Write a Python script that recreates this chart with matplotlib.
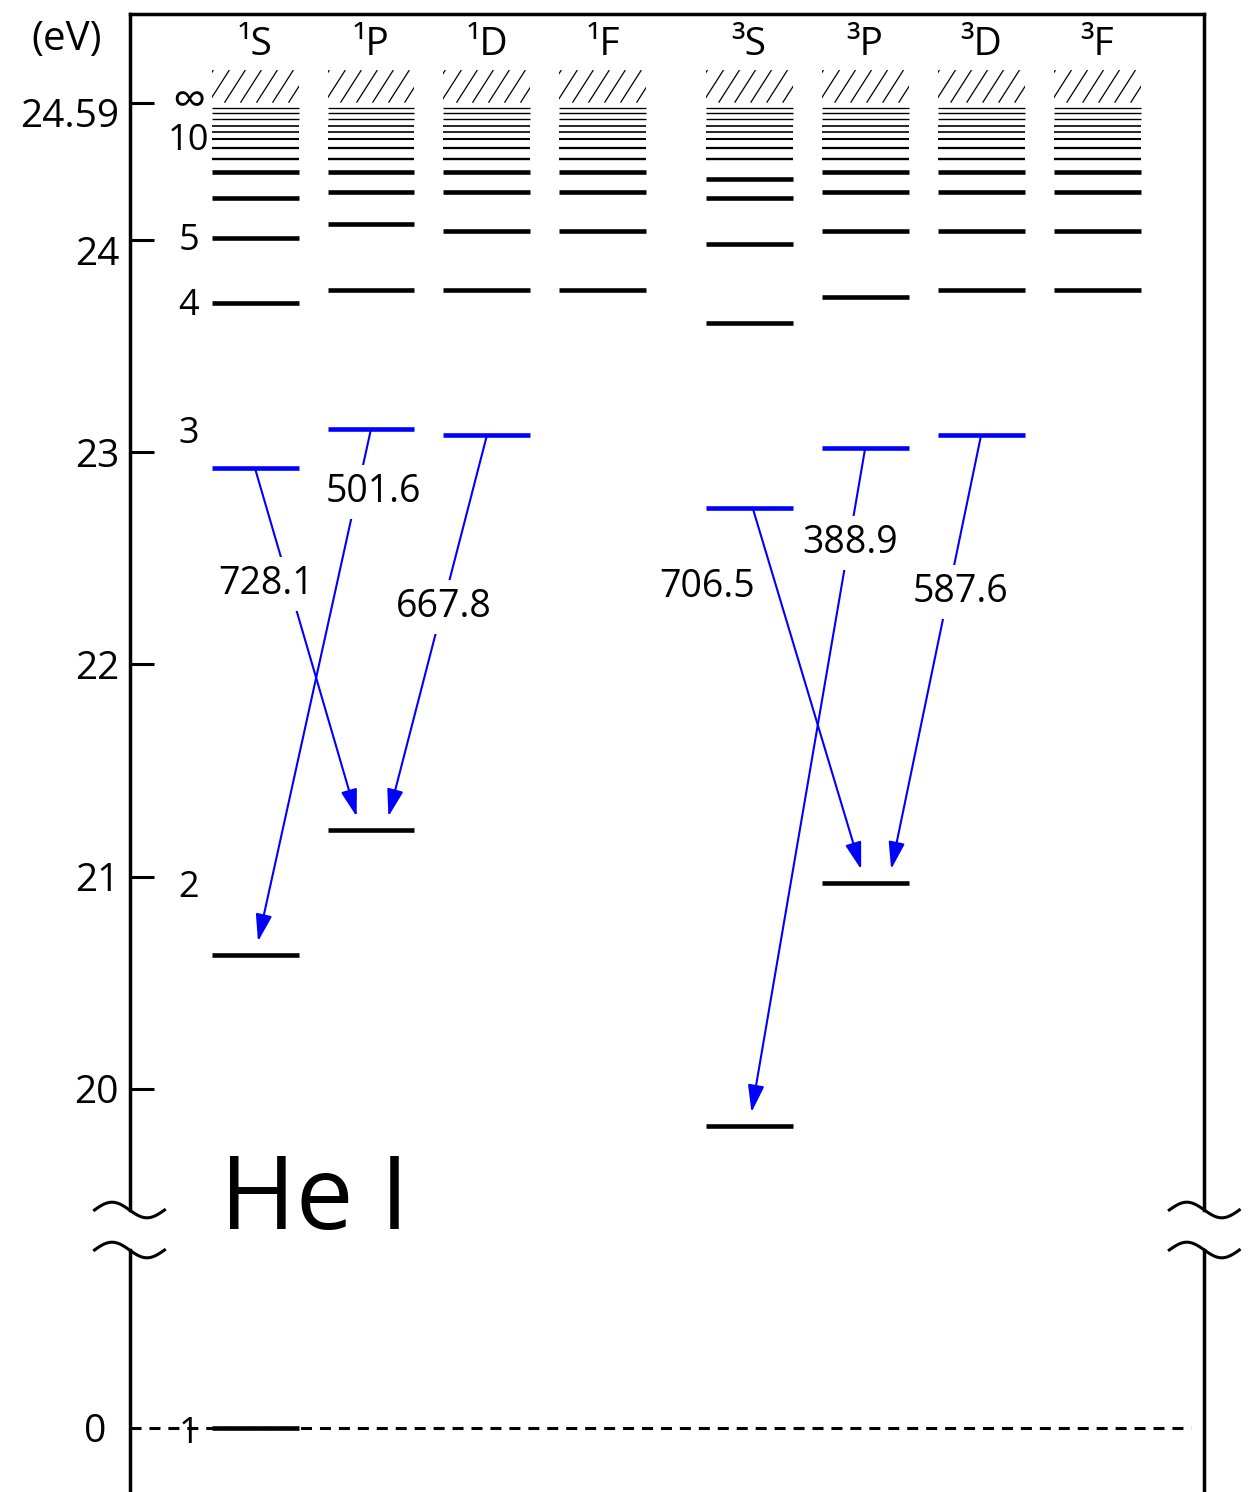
import numpy as np
import matplotlib
matplotlib.use("Agg")
import matplotlib.pyplot as plt
from matplotlib.patches import Rectangle
from matplotlib.lines import Line2D
from matplotlib.transforms import ScaledTranslation

plt.rcParams["font.family"] = ["Open Sans", "DejaVu Sans"]

# ---------------------------------------------------------------- data
terms = ["¹S", "¹P", "¹D", "¹F", "³S", "³P", "³D", "³F"]

# level energies in eV above the ground state, n = 1 ... 7 (None: no level)
E_1S = [0.0, 20.630, 22.925, 23.705, 24.010, 24.182, 24.294]
E_1P = [None, 21.220, 23.110, 23.766, 24.070, 24.209, 24.294]
E_1D = [None, None, 23.082, 23.766, 24.040, 24.209, 24.294]
E_1F = [None, None, None, 23.766, 24.040, 24.209, 24.294]
E_3S = [None, 19.824, 22.739, 23.610, 23.983, 24.182, 24.264]
E_3P = [None, 20.971, 23.019, 23.733, 24.040, 24.209, 24.294]
E_3D = [None, None, 23.082, 23.766, 24.040, 24.209, 24.294]
E_3F = [None, None, None, 23.766, 24.040, 24.209, 24.294]

# high Rydberg levels n = 8 ... 15, common to every term, and the series limit
E_rydberg = [24.350, 24.396, 24.435, 24.465, 24.490, 24.519, 24.547, 24.569]
E_limit = 24.59

# principal quantum number labels at the left edge
n_labels = ["10", "5", "4", "3", "2"]
n_label_E = [24.387, 23.955, 23.648, 23.044, 20.904]

# visible transitions n = 3 -> n = 2, wavelengths in nm
tr_upper = ["¹S", "¹P", "¹D", "³S", "³P", "³D"]
tr_lower = ["¹P", "¹S", "¹P", "³P", "³S", "³P"]
tr_wavelength = ["728.1", "501.6", "667.8", "706.5", "388.9", "587.6"]

y_ticks = [20, 21, 22, 23, 24, 24.59]
y_ticklabels = ["20", "21", "22", "23", "24", "24.59"]

# ---------------------------------------------------------------- layout
levels = dict(zip(terms, [E_1S, E_1P, E_1D, E_1F, E_3S, E_3P, E_3D, E_3F]))
col_x = {t: i + (0.26 if t.startswith("³") else 0.0) for i, t in enumerate(terms)}
half_w = 0.375
rydberg_lw = [1.7, 1.6, 1.5, 1.2, 1.2, 1.0, 1.0, 0.95]

# continuum shading above the series limit
cont_height = 0.14      # eV
hatch_step = 0.138      # horizontal spacing of the hatch strokes
hatch_lean = 0.18       # horizontal run of one stroke over the full height

# arrow end offsets from the column centres (tail, head)
tr_dx_tail = [0.0, 0.0, 0.0, 0.03, 0.0, 0.0]
tr_dx_head = [-0.09, 0.0, 0.12, 0.0, 0.0, 0.20]
# wavelength label anchors (x, baseline energy)
tr_label_pos = [(0.095, 22.332), (1.017, 22.767), (1.629, 22.224),
                (3.897, 22.318), (5.129, 22.526), (6.086, 22.295)]

BLUE = "#0000ff"
W, H = 1255, 1492
XL, XR = 129.5, 1204.3


def fwd(e):
    e = np.asarray(e, dtype=float)
    return np.where(e > 24, 24 + 1.1 * (e - 24), e)


def inv(u):
    u = np.asarray(u, dtype=float)
    return np.where(u > 24, 24 + (u - 24) / 1.1, u)


fig = plt.figure(figsize=(W / 100, H / 100), dpi=100)
ax = fig.add_axes([XL / W, 1 - 1210 / H, (XR - XL) / W, (1210 - 14) / H])
axb = fig.add_axes([XL / W, 0, (XR - XL) / W, (H - 1250) / H])

xlim = (-1.082, 8.184)
for a in (ax, axb):
    a.set_xlim(*xlim)
    a.set_xticks([])
    for s in ("left", "right", "top", "bottom"):
        a.spines[s].set_linewidth(2.5)
        a.spines[s].set_capstyle("projecting")

ax.set_yscale("function", functions=(fwd, inv))
ax.set_ylim(19.428, 24.970)
axb.set_ylim(-0.302, 0.839)
ax.spines["bottom"].set_visible(False)
axb.spines["top"].set_visible(False)
axb.spines["bottom"].set_visible(False)

# energy levels
for t in terms:
    x = col_x[t]
    for n, e in enumerate(levels[t], start=1):
        if e is None:
            continue
        target = axb if n == 1 else ax
        target.hlines(e, x - half_w, x + half_w,
                      color=BLUE if n == 3 else "black", lw=3.3, zorder=3)
    for e, lw in zip(E_rydberg, rydberg_lw):
        ax.hlines(e, x - half_w, x + half_w, color="black", lw=lw, zorder=3)

    # hatched continuum, strokes clipped to the column box
    box = Rectangle((x - half_w, E_limit), 2 * half_w, cont_height,
                    facecolor="none", edgecolor="none")
    ax.add_patch(box)
    x0 = x - half_w - 0.026 - hatch_step * 2
    while x0 < x + half_w:
        ln, = ax.plot([x0, x0 + hatch_lean], [E_limit, E_limit + cont_height],
                      color="black", lw=0.9, solid_capstyle="butt")
        ln.set_clip_path(box)
        x0 += hatch_step

    ax.text(x, 24.795, t, ha="center", va="baseline", fontsize=28)

# transitions
for up, lo, wl, dx0, dx1, (lx, ly) in zip(tr_upper, tr_lower, tr_wavelength,
                                         tr_dx_tail, tr_dx_head, tr_label_pos):
    ax.annotate("", xy=(col_x[lo] + dx1, levels[lo][1]),
                xytext=(col_x[up] + dx0, levels[up][2]),
                arrowprops=dict(arrowstyle="-|>,head_length=1.66,head_width=0.5",
                                mutation_scale=10, color=BLUE, lw=1.5,
                                shrinkA=0, shrinkB=10),
                zorder=2)
    ax.text(lx, ly, wl, ha="center", va="baseline", fontsize=27, zorder=5,
            bbox=dict(facecolor="white", edgecolor="none", pad=6))

# quantum number labels
label_x = -0.57
ax.text(label_x, E_limit, "∞", ha="center", va="center", fontsize=34)
for s, e in zip(n_labels, n_label_E):
    ax.text(label_x, e, s, ha="center", va="baseline", fontsize=26)
axb.text(label_x, -0.071, "1", ha="center", va="baseline", fontsize=26, zorder=4)

# ground-state reference line
axb.plot([xlim[0], 8.07], [0, 0], color="black", lw=2.2,
         ls=(0, (3.6, 2.6)), zorder=1)

# axis ticks
ax.set_yticks(y_ticks, labels=y_ticklabels)
ax.tick_params(axis="y", direction="in", length=17.3, width=2.2,
               pad=7.5, labelsize=28)
axb.set_yticks([0], labels=["0"])
axb.tick_params(axis="y", length=0, pad=16.5, labelsize=28)

shift = ScaledTranslation(0, -0.10, fig.dpi_scale_trans)
for tick in ax.yaxis.get_major_ticks():
    if tick.get_loc() >= 24:
        tick.label1.set_transform(tick.label1.get_transform() + shift)

# axis-break marks
def break_mark(xc, yc):
    t = np.linspace(-0.35, 0.35, 80)
    trans = fig.dpi_scale_trans + ScaledTranslation(xc, yc, fig.transFigure)
    fig.add_artist(Line2D(t, 0.078 * np.sin(2 * np.pi * (t + 0.35) / 0.7),
                          transform=trans, color="black", lw=2.2))


for xc in (XL / W, XR / W):
    for yc in (1 - 1210 / H, 1 - 1250 / H):
        break_mark(xc, yc)

fig.text(67 / W, 1 - 50 / H, "(eV)", ha="center", va="baseline", fontsize=29)
fig.text(220 / W, 1 - 1229 / H, "He I", ha="left", va="baseline", fontsize=74)

fig.savefig("out.png", dpi=100)
